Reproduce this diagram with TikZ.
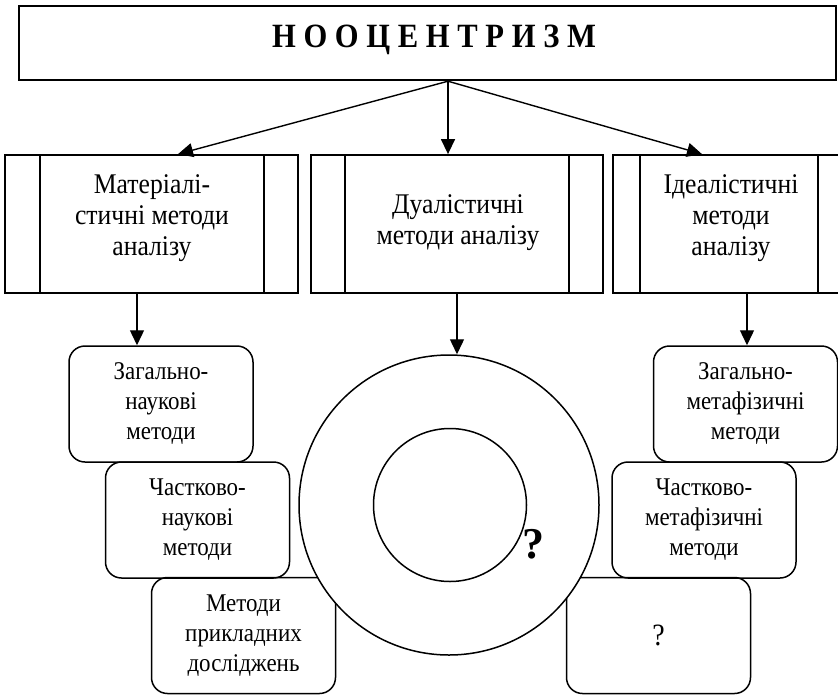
\documentclass[tikz,border=0pt]{standalone}
\usepackage{fontspec}
\setmainfont{Liberation Serif}
\newfontfamily\narrowserif[FakeStretch=0.9]{Liberation Serif}
\usetikzlibrary{arrows.meta}
\begin{document}
\begin{tikzpicture}[x=1pt,y=-1pt,
  titlebox/.style={draw,line width=2.4pt,minimum width=817,minimum height=74,inner sep=0},
  titletext/.style={font=\narrowserif\fontsize{34}{38}\selectfont\bfseries,inner sep=0,anchor=base},
  hdrbox/.style={draw,line width=1.8pt,minimum height=138,inner sep=0},
  hdrline/.style={line width=1.4pt},
  hdrtext/.style={font=\narrowserif\fontsize{28.5}{31}\selectfont,align=center,inner sep=0},
  smbox/.style={draw,line width=1.5pt,rounded corners=16pt,minimum width=184,minimum height=116,
    inner sep=0,align=center,font=\narrowserif\fontsize{25.5}{30}\selectfont},
  ringstyle/.style={draw,circle,line width=1.5pt,fill=white,inner sep=0},
  arr/.style={line width=1.4pt,-{Triangle[length=15pt,width=14pt]}}
]
\useasboundingbox (0,0) rectangle (838,694);

% title
\node[titlebox] (top) at (427.5,43) {};
\node[titletext] (ttl) at (434,47) {Н О О Ц Е Н Т Р И З М};

% three groups of methods
\node[hdrbox,minimum width=293] (mat) at (151.5,224) {};
\node[hdrbox,minimum width=292] (dua) at (457,224) {};
\node[hdrbox,minimum width=236] (ide) at (731,224) {};
\draw[hdrline] ([xshift=36]mat.north west) -- ([xshift=36]mat.south west);
\draw[hdrline] ([xshift=-35]mat.north east) -- ([xshift=-35]mat.south east);
\draw[hdrline] ([xshift=35]dua.north west) -- ([xshift=35]dua.south west);
\draw[hdrline] ([xshift=-35]dua.north east) -- ([xshift=-35]dua.south east);
\draw[hdrline] ([xshift=28]ide.north west) -- ([xshift=28]ide.south west);
\draw[hdrline] ([xshift=-32]ide.north east) -- ([xshift=-32]ide.south east);
\node[hdrtext] (matt) at (152,218) {Матеріалі-\\стичні методи\\аналізу};
\node[hdrtext] (duat) at (458,223) {Дуалістичні\\методи аналізу};
\node[hdrtext] (idet) at (731,218) {Ідеалістичні\\методи\\аналізу};

% materialistic methods
\node[smbox] (zn1) at (161,404) {Загально-\\наукові\\методи};
\node[smbox] (zn2) at (197.5,520) {Частково-\\наукові\\методи};
\node[smbox] (zn3) at (243.5,635.5) {Методи\\прикладних\\досліджень};

% idealistic methods
\node[smbox] (zm1) at (745.5,404) {Загально-\\метафізичні\\методи};
\node[smbox] (zm2) at (704,520) {Частково-\\метафізичні\\методи};
\node[smbox,font=\narrowserif\fontsize{31}{31}\selectfont] (zm3) at (658.5,635.5) {?};

% dualistic methods
\node[ringstyle,minimum size=300] (ring) at (449,505) {};
\node[ringstyle,minimum size=153] (core) at (450,505) {};
\node[font=\fontsize{44}{44}\selectfont\bfseries,inner sep=0] (q) at (533,544) {?};

% connectors
\draw[arr] ([xshift=20.5]top.south) -- ([xshift=26.5]mat.north);
\draw[arr] ([xshift=20.5]top.south) -- ([xshift=-9]dua.north);
\draw[arr] ([xshift=20.5]top.south) -- ([xshift=-29]ide.north);
\draw[arr] ([xshift=-14.5]mat.south) -- ([xshift=-24]zn1.north);
\draw[arr] (dua.south) -- (dua.south |- ring.north);
\draw[arr] ([xshift=16]ide.south) -- ([xshift=1.5]zm1.north);
\end{tikzpicture}
\end{document}
